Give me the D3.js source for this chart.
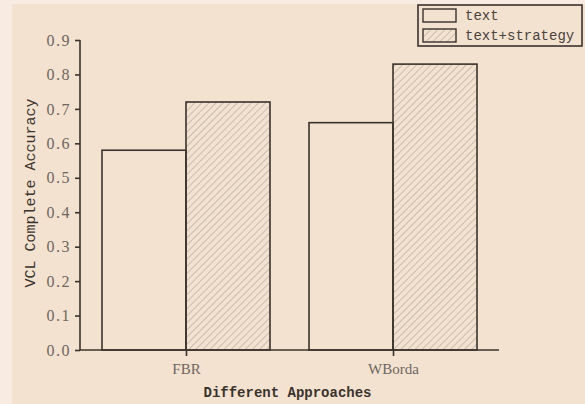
<!DOCTYPE html>
<html><head><meta charset="utf-8">
<script src="https://cdn.jsdelivr.net/npm/d3@7"></script>
<style>
html,body{margin:0;padding:0;background:#f4e2d0;}
svg{display:block;}
</style></head>
<body>
<svg id="chart" width="585" height="404"></svg>
<script>
const categories = ["FBR", "WBorda"];
const seriesNames = ["text", "text+strategy"];
const textValues = [0.58, 0.66];
const strategyValues = [0.72, 0.83];
const yTicks = [0.0, 0.1, 0.2, 0.3, 0.4, 0.5, 0.6, 0.7, 0.8, 0.9];
const xTitle = "Different Approaches";
const yTitle = "VCL Complete Accuracy";

(function () {
const svg = d3.select("#chart");
const W = 585, H = 404;
const bg = "#f4e2d0", ink = "#3a332d", hatch = "#a9a29b";
const mono = "'Liberation Mono','DejaVu Sans Mono',monospace";
const serif = "'Liberation Serif','DejaVu Serif',serif";

svg.append("rect").attr("width", W).attr("height", H).attr("fill", bg);
svg.append("rect").attr("width", 12).attr("height", H).attr("fill", "#f8ece2");
svg.append("rect").attr("width", W).attr("height", 4).attr("fill", "#f8ece2");

const defs = svg.append("defs");
const pat = defs.append("pattern").attr("id", "hatch").attr("patternUnits", "userSpaceOnUse")
  .attr("width", 5).attr("height", 5).attr("patternTransform", "rotate(45)");
pat.append("line").attr("x1", 0).attr("y1", 0).attr("x2", 0).attr("y2", 5)
  .attr("stroke", hatch).attr("stroke-width", 1.2);

const mLeft = 80, mRight = 499, mTop = 40, mBottom = 350;
const x = d3.scalePoint().domain(categories).range([mLeft, mRight]).padding(0.512);
const sub = d3.scaleBand().domain(seriesNames).range([-84, 84]).padding(0);
const y = d3.scaleLinear().domain([0, 0.9]).range([mBottom, mTop]);

const data = [];
categories.forEach((c, i) => {
  data.push({cat: c, s: seriesNames[0], v: textValues[i]});
  data.push({cat: c, s: seriesNames[1], v: strategyValues[i]});
});

svg.append("g").selectAll("rect").data(data).join("rect")
  .attr("x", d => x(d.cat) + sub(d.s))
  .attr("y", d => y(d.v))
  .attr("width", sub.bandwidth())
  .attr("height", d => y(0) - y(d.v))
  .attr("fill", d => d.s === seriesNames[1] ? "url(#hatch)" : "none")
  .attr("stroke", ink).attr("stroke-width", 1.6);

// y axis
const yAxis = svg.append("g").attr("transform", `translate(${mLeft},0)`)
  .call(d3.axisLeft(y).tickValues(yTicks).tickFormat(d3.format(".1f")).tickSize(5).tickPadding(4));
yAxis.select(".domain").attr("stroke", ink).attr("stroke-width", 1.6).attr("d", `M0,${y(0.9)}V${y(0)}`);
yAxis.selectAll(".tick line").attr("stroke", ink).attr("stroke-width", 1.6);
yAxis.selectAll(".tick text").attr("fill", "#6d6660").attr("font-family", serif).attr("font-size", 16)
  .attr("letter-spacing", 1.5);

// x axis
const xAxis = svg.append("g").attr("transform", `translate(0,${mBottom})`)
  .call(d3.axisBottom(x).tickSize(6).tickPadding(7));
xAxis.select(".domain").attr("stroke", ink).attr("stroke-width", 1.6).attr("d", `M${mLeft},0H${mRight}`);
xAxis.selectAll(".tick line").attr("stroke", ink).attr("stroke-width", 1.6);
xAxis.selectAll(".tick text").attr("fill", "#6d6660").attr("font-family", serif).attr("font-size", 15);

// titles
svg.append("text").attr("x", (mLeft + mRight) / 2 - 2).attr("y", 397)
  .attr("text-anchor", "middle").attr("font-family", mono).attr("font-size", 14)
  .attr("font-weight", "bold").attr("fill", ink).text(xTitle);
svg.append("text").attr("transform", `translate(35,${(mTop + mBottom) / 2 - 2}) rotate(-90)`)
  .attr("text-anchor", "middle").attr("font-family", mono).attr("font-size", 15)
  .attr("fill", ink).text(yTitle);

// legend
const lg = svg.append("g");
lg.append("rect").attr("x", 418).attr("y", 5).attr("width", 164).attr("height", 41)
  .attr("fill", "none").attr("stroke", ink).attr("stroke-width", 1.6);
seriesNames.forEach((s, i) => {
  lg.append("rect").attr("x", 423).attr("y", 9 + i * 20).attr("width", 33).attr("height", 13)
    .attr("fill", i === 1 ? "url(#hatch)" : "none").attr("stroke", ink).attr("stroke-width", 1.4);
  lg.append("text").attr("x", 465).attr("y", 20 + i * 20).attr("font-family", mono)
    .attr("font-size", 14).attr("fill", "#4a433d").text(s);
});
})();
</script>
</body></html>
